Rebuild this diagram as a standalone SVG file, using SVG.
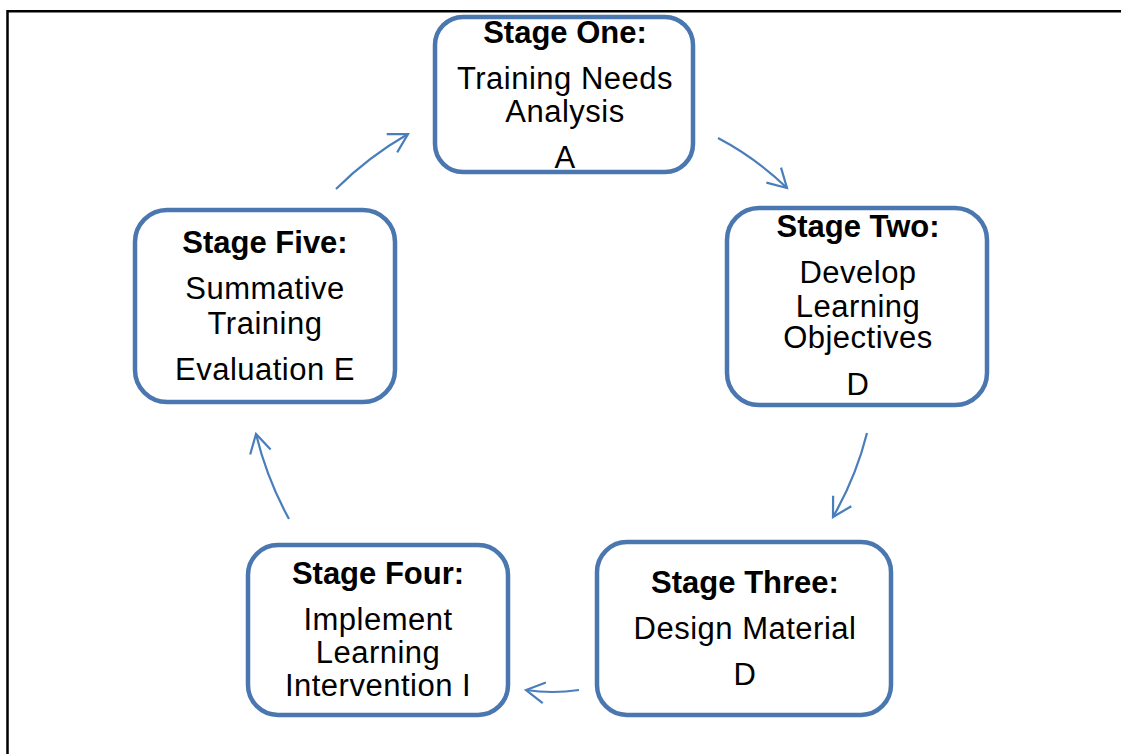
<svg xmlns="http://www.w3.org/2000/svg" width="1121" height="754" viewBox="0 0 1121 754">
  <style>
    .box { fill: #ffffff; stroke: #4a77b0; stroke-width: 4.5; }
    .title { font-family: "Liberation Sans", Arial, sans-serif; font-weight: bold; font-size: 31px; fill: #000; text-anchor: middle; }
    .body { font-family: "Liberation Sans", Arial, sans-serif; font-size: 31px; letter-spacing: 0.5px; fill: #000; text-anchor: middle; }
    .link { fill: none; stroke: #4a7ebb; stroke-width: 2.2; marker-end: url(#open); }
    .frame { stroke: #000; stroke-width: 2.5; fill: none; }
  </style>
  <defs>
    <marker id="open" markerUnits="userSpaceOnUse" markerWidth="30" markerHeight="30" viewBox="-25 -15 30 30" refX="0" refY="0" orient="auto">
      <path d="M -18.5 -10.5 L 0 0 L -18.5 10.5" fill="none" stroke="#4a7ebb" stroke-width="2.2"/>
    </marker>
  </defs>

  <rect width="1121" height="754" fill="#ffffff"/>

  <!-- page frame: top and left rules -->
  <path class="frame" d="M 7.5 754 L 7.5 11.3 L 1121 11.3"/>

  <!-- cycle connectors -->
  <g id="connectors">
    <path class="link" d="M 336 189 Q 368 157 408 134"/>
    <path class="link" d="M 718 138 Q 756 158 787 188"/>
    <path class="link" d="M 867 433 Q 856 477 833 517"/>
    <path class="link" d="M 579 690 Q 552 694 526 690"/>
    <path class="link" d="M 289 519 Q 267 479 256 434"/>
  </g>

  <g id="stage-one">
    <rect class="box" x="435" y="17" width="258" height="155" rx="28" ry="28"/>
    <text class="title" x="565" y="43">Stage One:</text>
    <text class="body" x="565" y="89">Training Needs</text>
    <text class="body" x="565" y="122">Analysis</text>
    <text class="body" x="565" y="168">A</text>
  </g>

  <g id="stage-two">
    <rect class="box" x="727" y="208" width="260" height="197" rx="32" ry="32"/>
    <text class="title" x="858" y="237">Stage Two:</text>
    <text class="body" x="858" y="283">Develop</text>
    <text class="body" x="858" y="317">Learning</text>
    <text class="body" x="858" y="348">Objectives</text>
    <text class="body" x="858" y="395">D</text>
  </g>

  <g id="stage-three">
    <rect class="box" x="597" y="542" width="294" height="173" rx="30" ry="30"/>
    <text class="title" x="745" y="593">Stage Three:</text>
    <text class="body" x="745" y="639">Design Material</text>
    <text class="body" x="745" y="685">D</text>
  </g>

  <g id="stage-four">
    <rect class="box" x="248" y="545" width="260" height="170" rx="30" ry="30"/>
    <text class="title" x="378" y="584">Stage Four:</text>
    <text class="body" x="378" y="630">Implement</text>
    <text class="body" x="378" y="663">Learning</text>
    <text class="body" x="378" y="696">Intervention I</text>
  </g>

  <g id="stage-five">
    <rect class="box" x="135" y="210" width="260" height="192" rx="32" ry="32"/>
    <text class="title" x="265" y="253">Stage Five:</text>
    <text class="body" x="265" y="299">Summative</text>
    <text class="body" x="265" y="334">Training</text>
    <text class="body" x="265" y="380">Evaluation E</text>
  </g>
</svg>
